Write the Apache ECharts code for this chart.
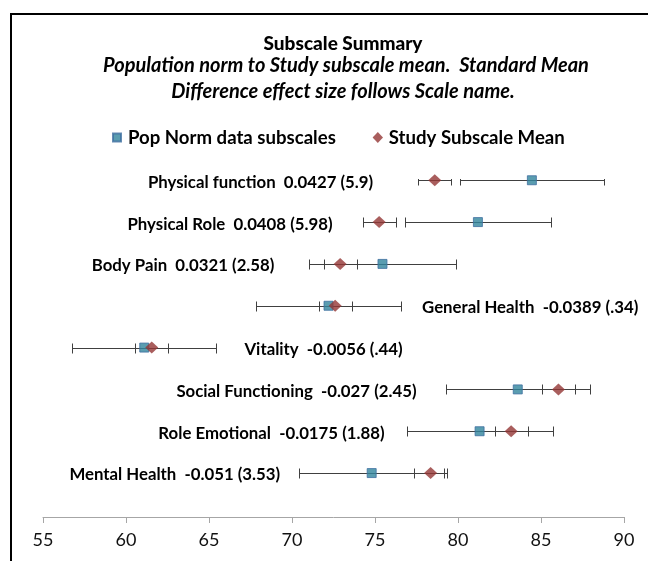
<!DOCTYPE html>
<html><head><meta charset="utf-8">
<script src="https://cdn.jsdelivr.net/npm/echarts@6/dist/echarts.min.js"></script>
<style>html,body{margin:0;padding:0;background:#fff}#c{width:648px;height:561px}</style>
</head><body><div id="c"></div>
<script>
// ---- data ----
const categories = ["Physical function", "Physical Role", "Body Pain", "General Health", "Vitality", "Social Functioning", "Role Emotional", "Mental Health"];
const effectLabels = ["Physical function  0.0427 (5.9)", "Physical Role  0.0408 (5.98)", "Body Pain  0.0321 (2.58)", "General Health  -0.0389 (.34)", "Vitality  -0.0056 (.44)", "Social Functioning  -0.027 (2.45)", "Role Emotional  -0.0175 (1.88)", "Mental Health  -0.051 (3.53)"];
const popNorm = [84.45, 81.2, 75.45, 72.2, 61.1, 83.6, 81.3, 74.8];
const popNormErr = [4.35, 4.4, 4.4, 4.37, 4.35, 4.35, 4.4, 4.37];
const studyMean = [78.6, 75.25, 72.9, 72.6, 61.55, 86.05, 83.2, 78.35];
const studyMeanErr = [1.0, 1.0, 1.0, 1.0, 1.0, 1.0, 1.0, 1.0];
const xTicks = [55, 60, 65, 70, 75, 80, 85, 90];
const seriesNames = ["Pop Norm data subscales", "Study Subscale Mean"];
const titleText = "Subscale Summary";
const subtitleLines = ["Population norm to Study subscale mean.  Standard Mean", "Difference effect size follows Scale name."];

// ---- layout (not data) ----
const labelSide = ["left", "left", "left", "right", "right", "left", "left", "left"];
const labelGap = [45, 30, 35, 21, 28, 29, 22, 19];
const FONT = "Lato, 'Open Sans', sans-serif";
const legendSquareIcon = 'path://M0 0M12 12M2 2h8v8h-8z';
const legendDiamondIcon = 'path://M0 0M12 12M6 0.5L11.2 6L6 11.5L0.8 6Z';

const chart = echarts.init(document.getElementById('c'), null, {renderer: 'canvas'});

function errSeries(name, means, errs) {
  return {
    type: 'custom', name: name, silent: true, clip: true, z: 2,
    data: means.map((m, i) => [m - errs[i], m + errs[i], i]),
    encode: {x: [0, 1], y: 2},
    renderItem: function (params, api) {
      const lo = api.coord([api.value(0), api.value(2)]);
      const hi = api.coord([api.value(1), api.value(2)]);
      const y = Math.round(lo[1]) + 0.5;
      const x1 = Math.round(lo[0]) + 0.5, x2 = Math.round(hi[0]) + 0.5;
      const h = 5;
      const style = {stroke: '#404040', lineWidth: 1};
      return {type: 'group', children: [
        {type: 'line', shape: {x1: x1, y1: y, x2: x2, y2: y}, style: style},
        {type: 'line', shape: {x1: x1, y1: y - h, x2: x1, y2: y + h}, style: style},
        {type: 'line', shape: {x1: x2, y1: y - h, x2: x2, y2: y + h}, style: style}
      ]};
    }
  };
}

const labelData = categories.map((c, i) => {
  const lo = Math.min(popNorm[i] - popNormErr[i], studyMean[i] - studyMeanErr[i]);
  const hi = Math.max(popNorm[i] + popNormErr[i], studyMean[i] + studyMeanErr[i]);
  return [labelSide[i] === 'left' ? lo : hi, i];
});

const option = {
  backgroundColor: '#fff',
  animation: false,
  title: [
    {text: titleText, left: 343, top: 34, textAlign: 'center', padding: 0,
     textStyle: {fontFamily: FONT, fontWeight: 900, fontSize: 19, color: '#000'}},
    {text: subtitleLines[0], left: 346, top: 56, textAlign: 'center', padding: 0,
     textStyle: {fontFamily: FONT, fontWeight: 'bold', fontStyle: 'italic', fontSize: 20, color: '#000'}},
    {text: subtitleLines[1], left: 343, top: 82, textAlign: 'center', padding: 0,
     textStyle: {fontFamily: FONT, fontWeight: 'bold', fontStyle: 'italic', fontSize: 20, color: '#000'}}
  ],
  legend: {
    data: [{name: seriesNames[0], icon: legendSquareIcon}, {name: seriesNames[1], icon: legendDiamondIcon}],
    left: 110, top: 128, padding: 0, itemGap: 36,
    itemWidth: 12, itemHeight: 12,
    textStyle: {fontFamily: FONT, fontWeight: 'bold', fontSize: 18.6, color: '#000'}
  },
  graphic: [{
    type: 'rect', silent: true, z: 100,
    shape: {x: 11, y: 14, width: 666, height: 600},
    style: {fill: null, stroke: '#000', lineWidth: 2}
  }],
  grid: {left: 43, right: 24, top: 179, bottom: 44},
  xAxis: {
    type: 'value', min: xTicks[0], max: xTicks[xTicks.length - 1], interval: xTicks[1] - xTicks[0],
    position: 'bottom',
    axisLine: {show: true, onZero: false, lineStyle: {color: '#A6A6A6', width: 1}},
    axisTick: {show: true, length: 6, lineStyle: {color: '#A6A6A6'}},
    splitLine: {show: false},
    axisLabel: {margin: 14, fontFamily: FONT, fontSize: 18, color: '#111'}
  },
  yAxis: {type: 'value', min: -0.03, max: 8.05, inverse: true, show: false},
  series: [
    errSeries('popErr', popNorm, popNormErr),
    errSeries('studyErr', studyMean, studyMeanErr),
    {
      type: 'scatter', name: seriesNames[0], symbol: 'rect', symbolSize: 9, z: 5, clip: false,
      itemStyle: {color: '#31859C', borderColor: '#3F6FA0', borderWidth: 1},
      data: popNorm.map((v, i) => [v, i])
    },
    {
      type: 'scatter', name: seriesNames[1], symbol: 'diamond', symbolSize: [13, 12], z: 6, clip: false,
      itemStyle: {color: '#943634'},
      data: studyMean.map((v, i) => [v, i])
    },
    {
      type: 'custom', name: 'labels', silent: true, clip: false, z: 7,
      data: labelData, encode: {x: 0, y: 1},
      renderItem: function (params, api) {
        const i = params.dataIndex;
        const p = api.coord([api.value(0), api.value(1)]);
        const left = labelSide[i] === 'left';
        return {type: 'text', x: left ? p[0] - labelGap[i] : p[0] + labelGap[i], y: p[1] + 2,
          style: {text: effectLabels[i], align: left ? 'right' : 'left', verticalAlign: 'middle',
            font: 'bold 16.8px ' + FONT, fill: '#000'}};
      }
    }
  ]
};
chart.setOption(option);
</script></body></html>
